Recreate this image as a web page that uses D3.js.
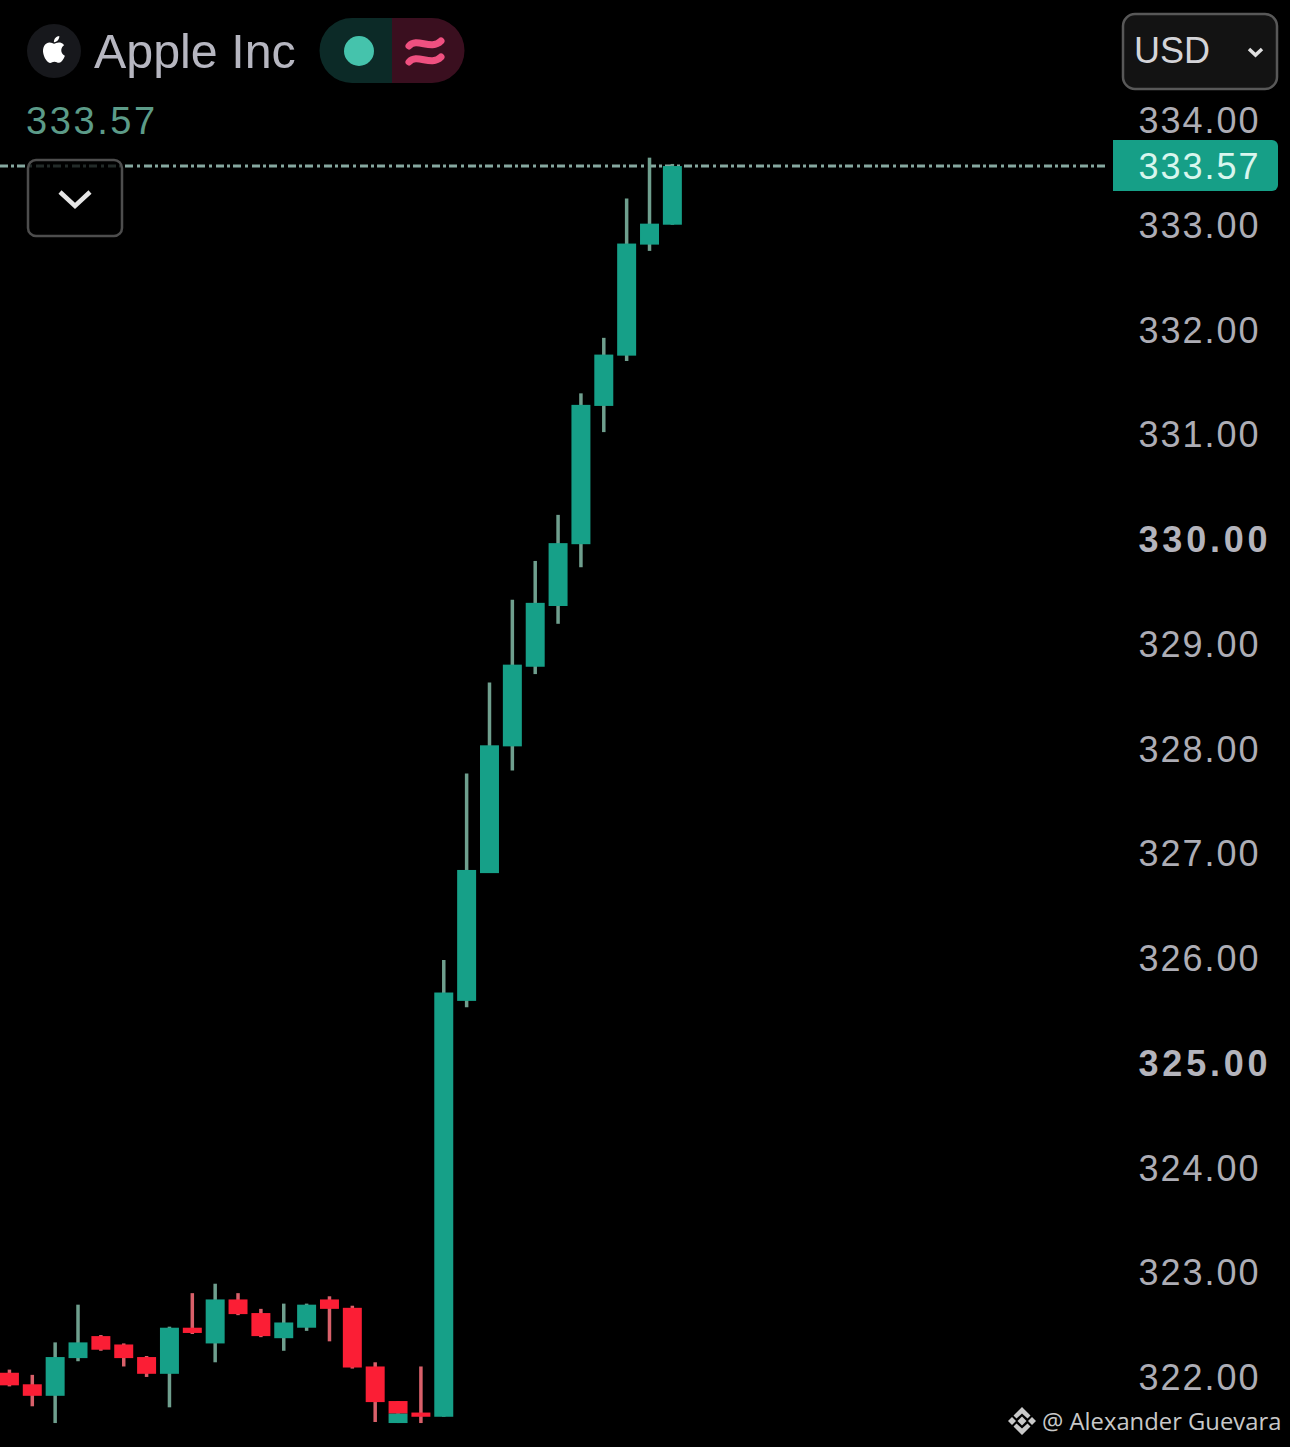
<!DOCTYPE html>
<html>
<head>
<meta charset="utf-8">
<style>
  html, body { margin: 0; padding: 0; background: #000; }
  svg { display: block; }
  text { font-family: "Liberation Sans", Arial, sans-serif; }
</style>
<script src="https://cdn.jsdelivr.net/npm/d3@7"></script>
</head>
<body>
<div id="chart"></div>
<script>
// Candles, oldest first.
// Slot 17 appears twice: that candle shows a red top and a green bottom.
const slots = [0,1,2,3,4,5,6,7,8,9,10,11,12,13,14,15,16,17,17,18,19,20,21,22,23,24,25,26,27,28,29];
const opens = [322.05,321.94,321.83,322.19,322.40,322.32,322.20,322.04,322.48,322.33,322.75,322.62,322.38,322.48,322.75,322.67,322.11,321.78,321.57,321.67,321.63,325.60,326.82,328.03,328.79,329.37,329.96,331.28,331.76,332.82,333.01];
const highs = [322.08,322.03,322.34,322.70,322.41,322.33,322.21,322.49,322.81,322.90,322.81,322.66,322.71,322.71,322.78,322.69,322.15,321.78,321.66,322.11,325.99,327.77,328.64,329.43,329.80,330.24,331.40,331.93,333.26,333.65,333.59];
const lows = [321.92,321.73,321.57,322.16,322.26,322.11,322.01,321.72,322.42,322.15,322.60,322.39,322.26,322.45,322.35,322.09,321.58,321.66,321.57,321.57,321.63,325.54,326.82,327.80,328.72,329.20,329.74,331.03,331.71,332.76,333.01];
const closes = [321.93,321.83,322.20,322.34,322.27,322.19,322.04,322.48,322.43,322.75,322.61,322.40,322.53,322.70,322.66,322.10,321.77,321.66,321.66,321.63,325.68,326.85,328.04,328.81,329.40,329.97,331.29,331.77,332.83,333.02,333.57];

const priceTicks = [334,333,332,331,330,329,328,327,326,325,324,323,322];
const boldTicks = [330,325];
const lastPrice = 333.57;
const title = "Apple Inc";
const currency = "USD";
const credit = "@ Alexander Guevara";

const width = 1290, height = 1447;
const green = "#16a088", red = "#fb1e35";

const svg = d3.select("#chart").append("svg")
    .attr("width", width)
    .attr("height", height)
    .style("background", "#000");

const x = d3.scaleBand()
    .domain(d3.range(30))
    .range([-2, 683.8])
    .paddingInner(0.17)
    .paddingOuter(0.085);

const y = d3.scaleLinear()
    .domain([322, 334])
    .range([1378, 121]);

const candles = slots.map((s, i) => ({ slot: s, open: opens[i], high: highs[i], low: lows[i], close: closes[i] }));

// Last price line
svg.append("line")
    .attr("x1", 0).attr("x2", 1108)
    .attr("y1", y(lastPrice)).attr("y2", y(lastPrice))
    .attr("stroke", "#86a8a0")
    .attr("stroke-width", 3)
    .attr("stroke-dasharray", "8,3,3,3,8,4,3,4");

// Wicks
svg.selectAll(".wick")
    .data(candles)
    .enter()
    .append("line")
    .attr("class", "wick")
    .attr("x1", d => x(d.slot) + x.bandwidth() / 2)
    .attr("x2", d => x(d.slot) + x.bandwidth() / 2)
    .attr("y1", d => y(d.high))
    .attr("y2", d => y(d.low))
    .attr("stroke", d => d.close >= d.open ? "#6f9f8e" : "#d9606a")
    .attr("stroke-width", 3.5);

// Bodies
svg.selectAll(".body")
    .data(candles)
    .enter()
    .append("rect")
    .attr("class", "body")
    .attr("x", d => x(d.slot))
    .attr("y", d => y(Math.max(d.open, d.close)))
    .attr("width", x.bandwidth())
    .attr("height", d => Math.abs(y(d.open) - y(d.close)))
    .attr("fill", d => d.close >= d.open ? green : red);

// Price axis
const axis = svg.append("g")
    .attr("transform", "translate(1138.5,0)")
    .call(d3.axisRight(y).tickValues(priceTicks).tickSize(0).tickPadding(0).tickFormat(d => d.toFixed(2)));
axis.select(".domain").remove();
axis.selectAll("text")
    .attr("x", 0)
    .style("font-family", "'Liberation Sans', Arial, sans-serif")
    .style("font-size", "36px")
    .style("letter-spacing", d => boldTicks.includes(d) ? "3.8px" : "2px")
    .style("font-weight", d => boldTicks.includes(d) ? 700 : 400)
    .attr("fill", d => boldTicks.includes(d) ? "#b4b4bc" : "#adadb5");

// Last price tag
svg.append("path")
    .attr("d", "M1113,140H1272a6,6 0 0 1 6,6V185a6,6 0 0 1 -6,6H1113Z")
    .attr("fill", "#169f87");
svg.append("text")
    .attr("x", 1138.5)
    .attr("y", y(lastPrice) + 1)
    .attr("dy", "0.32em")
    .attr("font-size", 36)
    .attr("letter-spacing", 2)
    .attr("fill", "#d8f6ee")
    .text(lastPrice.toFixed(2));

// Header
svg.append("circle").attr("cx", 54).attr("cy", 51).attr("r", 27).attr("fill", "#17181c");
svg.append("path")
    .attr("transform", "translate(40.5,36) scale(1.12)")
    .attr("fill", "#fff")
    .attr("d", "M12.152 6.896c-.948 0-2.415-1.078-3.96-1.04-2.04.027-3.91 1.183-4.961 3.014-2.117 3.675-.546 9.103 1.519 12.09 1.013 1.454 2.208 3.09 3.792 3.039 1.52-.065 2.09-.987 3.935-.987 1.831 0 2.35.987 3.96.948 1.637-.026 2.676-1.48 3.676-2.948 1.156-1.688 1.636-3.325 1.662-3.415-.039-.013-3.182-1.221-3.22-4.857-.026-3.04 2.48-4.494 2.597-4.559-1.429-2.09-3.623-2.324-4.39-2.376-2-.156-3.675 1.09-4.61 1.09zM15.53 3.83c.843-1.012 1.4-2.427 1.245-3.83-1.207.052-2.662.805-3.532 1.818-.78.896-1.454 2.338-1.273 3.714 1.338.104 2.715-.688 3.559-1.701");

svg.append("text")
    .attr("x", 94).attr("y", 68)
    .attr("font-size", 48.4)
    .attr("fill", "#b6b6c0")
    .text(title);

svg.append("text")
    .attr("x", 26).attr("y", 134)
    .attr("font-size", 38)
    .attr("letter-spacing", 2.6)
    .attr("fill", "#5c9b88")
    .text(lastPrice.toFixed(2));

// Market status pill
svg.append("path").attr("d", "M392,18H352a32.5,32.5 0 0 0 0,65H392Z").attr("fill", "#0c2a27");
svg.append("path").attr("d", "M392,18H432a32.5,32.5 0 0 1 0,65H392Z").attr("fill", "#3a0f1f");
svg.append("circle").attr("cx", 359).attr("cy", 51).attr("r", 15).attr("fill", "#45c3ac");
[44, 60].forEach(cy => {
    svg.append("path")
        .attr("d", `M409,${cy + 2}C417,${cy - 7} 431,${cy + 7} 441,${cy - 3}`)
        .attr("fill", "none")
        .attr("stroke", "#ef5080")
        .attr("stroke-width", 7)
        .attr("stroke-linecap", "round");
});

// Collapse button
svg.append("rect")
    .attr("x", 28).attr("y", 160).attr("width", 94).attr("height", 76).attr("rx", 8)
    .attr("fill", "#000").attr("fill-opacity", 0.75)
    .attr("stroke", "#4d4d4d").attr("stroke-width", 2.5);
svg.append("path")
    .attr("d", "M60,192L75,206L90,192")
    .attr("fill", "none").attr("stroke", "#e6e6e6").attr("stroke-width", 4.5);

// Currency selector
svg.append("rect")
    .attr("x", 1123).attr("y", 14).attr("width", 154).attr("height", 75).attr("rx", 12)
    .attr("fill", "#131313")
    .attr("stroke", "#585858").attr("stroke-width", 2.5);
svg.append("text")
    .attr("x", 1134).attr("y", 63)
    .attr("font-size", 36)
    .attr("fill", "#d4d4d8")
    .text(currency);
svg.append("path")
    .attr("d", "M1249,49L1255.5,55L1262,49")
    .attr("fill", "none").attr("stroke", "#e0e0e0").attr("stroke-width", 3.5);

// Watermark
const mark = svg.append("g").attr("transform", "translate(1022,1421)").attr("fill", "#c8c8c8");
mark.append("path").attr("d", "M0,-4.5L4.5,0L0,4.5L-4.5,0Z");
mark.append("path").attr("d", "M-14,0L-10,-4L-6,0L-10,4Z");
mark.append("path").attr("d", "M14,0L10,-4L6,0L10,4Z");
mark.append("path").attr("d", "M0,-14L8.5,-5.5L5.5,-2.5L0,-7.5L-5.5,-2.5L-8.5,-5.5Z");
mark.append("path").attr("d", "M0,14L8.5,5.5L5.5,2.5L0,7.5L-5.5,2.5L-8.5,5.5Z");

svg.append("text")
    .attr("x", 1042).attr("y", 1430)
    .attr("font-size", 23.8)
    .attr("fill", "#c8c8c8")
    .style("font-family", "'Open Sans', sans-serif")
    .text(credit);
</script>
</body>
</html>
